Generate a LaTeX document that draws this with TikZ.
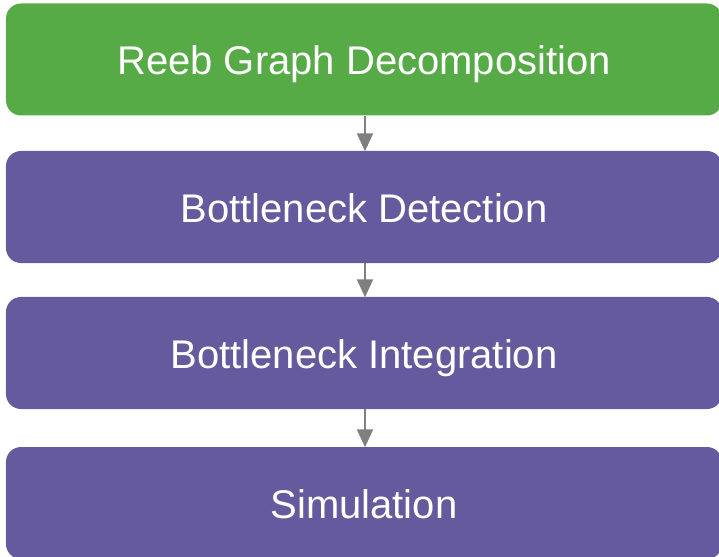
\documentclass[tikz,border=0pt]{standalone}
\usepackage{fontspec}
\setmainfont{Liberation Sans}
\usetikzlibrary{arrows.meta}
\definecolor{stepgreen}{HTML}{56AB47}
\definecolor{steppurple}{HTML}{665A9E}
\definecolor{flowgray}{HTML}{7F7F7F}
\tikzset{
  stagebox/.style={rectangle, rounded corners=15bp, minimum width=716bp,
    minimum height=112bp, inner sep=0pt, text=white,
    text height=31bp, text depth=0pt,
    font=\fontsize{40bp}{48bp}\selectfont},
  flow/.style={draw=flowgray, line width=2bp,
    -{Triangle[width=16bp,length=18bp]}, shorten >=-0.5bp}
}
\begin{document}
\begin{tikzpicture}[x=1bp,y=-1bp]
  \useasboundingbox (0,0) rectangle (719,557);
  \clip (0,0) rectangle (719,557);
  \node[stagebox, fill=stepgreen]  (reeb)   at (364,59.5) {Reeb Graph Decomposition};
  \node[stagebox, fill=steppurple] (detect) at (364,207) {Bottleneck Detection};
  \node[stagebox, fill=steppurple] (integ)  at (364,353) {Bottleneck Integration};
  \node[stagebox, fill=steppurple] (sim)    at (364,503) {Simulation};
  \draw[flow] (reeb.south -| 365,0) -- (detect.north -| 365,0);
  \draw[flow] (detect.south -| 365,0) -- (integ.north -| 365,0);
  \draw[flow] (integ.south -| 365,0) -- (sim.north -| 365,0);
\end{tikzpicture}
\end{document}
